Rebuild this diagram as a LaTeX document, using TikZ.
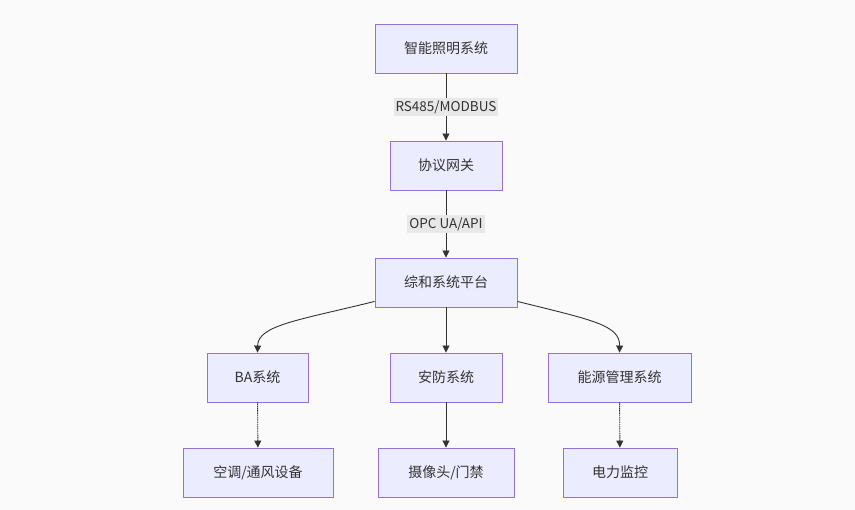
\documentclass[tikz,border=0pt]{standalone}
\usepackage{fontspec}
\setmainfont{Noto Sans CJK SC}
\usetikzlibrary{arrows.meta,calc}
\definecolor{nodefill}{HTML}{ECECFF}
\definecolor{nodeline}{HTML}{9370DB}
\definecolor{edgecol}{HTML}{333333}
\definecolor{lblfill}{HTML}{E8E8E8}
\definecolor{bgcol}{HTML}{FAFAFA}
\tikzset{
  box/.style={draw=nodeline, fill=nodefill, line width=0.9pt, minimum height=49pt, inner sep=0pt,
    text=edgecol, font=\fontsize{14}{16}\selectfont},
  lbl/.style={fill=lblfill, text=edgecol, inner sep=2pt, font=\fontsize{13.5}{16}\selectfont},
  conn/.style={draw=edgecol, line width=0.9pt, -{Triangle[length=7pt,width=7pt]}},
  dotconn/.style={conn, dash pattern=on 1.2pt off 0.6pt}
}
\begin{document}
\begin{tikzpicture}[x=1pt,y=-1pt]
\fill[bgcol] (0,0) rectangle (855,510);
\useasboundingbox (0,0) rectangle (855,510);
\node[box, minimum width=142pt] (light) at (446,48.5) {智能照明系统};
\node[box, minimum width=112pt] (gw) at (446,165.5) {协议网关};
\node[box, minimum width=142pt] (plat) at (446,282.5) {综和系统平台};
\node[box, minimum width=101pt] (ba) at (257.5,377.5) {BA系统};
\node[box, minimum width=112pt] (sec) at (446,377.5) {安防系统};
\node[box, minimum width=143pt] (eng) at (619.5,377.5) {能源管理系统};
\node[box, minimum width=150pt] (hvac) at (258,472.5) {空调/通风设备};
\node[box, minimum width=136pt] (cam) at (446,472.5) {摄像头/门禁};
\node[box, minimum width=114pt] (pwr) at (620,472.5) {电力监控};
\draw[conn] (light) -- node[lbl] {RS485/MODBUS} (gw);
\draw[conn] (gw) -- node[lbl] {OPC UA/API} (plat);
\draw[conn] ([yshift=6pt]plat.south west) .. controls (300,320) and (258,325) .. (ba.north);
\draw[conn] (plat) -- (sec);
\draw[conn] ([yshift=6pt]plat.south east) .. controls (592,320) and (620,325) .. (eng.north);
\draw[dotconn] (ba) -- (hvac);
\draw[conn] (sec) -- (cam);
\draw[dotconn] (eng) -- (pwr);
\end{tikzpicture}
\end{document}
